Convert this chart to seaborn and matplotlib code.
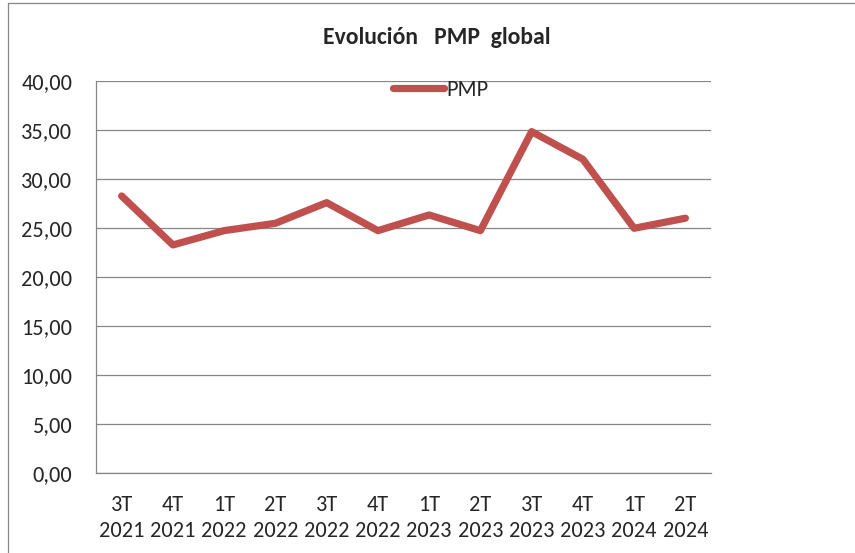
import matplotlib
matplotlib.use("Agg")
import matplotlib.pyplot as plt
import matplotlib.lines as mlines
import seaborn as sns
import pandas as pd

trimestres = ["3T\n2021", "4T\n2021", "1T\n2022", "2T\n2022", "3T\n2022", "4T\n2022",
              "1T\n2023", "2T\n2023", "3T\n2023", "4T\n2023", "1T\n2024", "2T\n2024"]
pmp = [28.26, 23.26, 24.72, 25.47, 27.58, 24.72, 26.32, 24.72, 34.83, 32.01, 24.96, 25.99]
y_ticks = [0, 5, 10, 15, 20, 25, 30, 35, 40]

sns.set_style("white")
plt.rcParams['font.family'] = ['Carlito', 'Liberation Sans Narrow', 'DejaVu Sans']

df = pd.DataFrame({"trimestre": trimestres, "PMP": pmp})
df["pos"] = range(len(df))

fig = plt.figure(figsize=(8.55, 5.53), dpi=100)
ax = fig.add_axes([0.1123, 0.1452, 0.7193, 0.7083])

color = "#C0504D"
sns.lineplot(data=df, x="pos", y="PMP", ax=ax, color=color, linewidth=5.2,
             solid_capstyle="round", solid_joinstyle="round", label="PMP")

ax.set_xlim(-0.5, len(df) - 0.5)
ax.set_ylim(0, 40)
ax.set_yticks(y_ticks)
ax.set_yticklabels([f"{v:.2f}".replace(".", ",") for v in y_ticks])
ax.set_xticks(df["pos"])
ax.set_xticklabels(df["trimestre"], linespacing=1.38)
ax.tick_params(axis="y", length=0, pad=17, labelsize=16)
ax.tick_params(axis="x", length=0, pad=16, labelsize=16)
ax.set_xlabel("")
ax.set_ylabel("")

ax.grid(axis="y", color="#878787", linewidth=0.9)
ax.set_axisbelow(True)
for side in ["top", "right"]:
    ax.spines[side].set_visible(False)
for side in ["left", "bottom"]:
    ax.spines[side].set_color("#878787")
    ax.spines[side].set_linewidth(0.9)

leg = ax.legend(loc="center", bbox_to_anchor=(0.56, 0.978), frameon=False,
                fontsize=16, handlelength=2.3, handletextpad=0.1, borderpad=0)

fig.text(0.511, 0.933, "Evolución   PMP  global", ha="center", va="center",
         fontsize=17, fontweight="bold")

# chart border (left and top edges visible)
fig.add_artist(mlines.Line2D([8 / 855, 8 / 855], [0, 1 - 3 / 553], color="#878787", linewidth=0.9))
fig.add_artist(mlines.Line2D([8 / 855, 1], [1 - 3 / 553, 1 - 3 / 553], color="#878787", linewidth=0.9))

fig.savefig("out.png", dpi=100)
